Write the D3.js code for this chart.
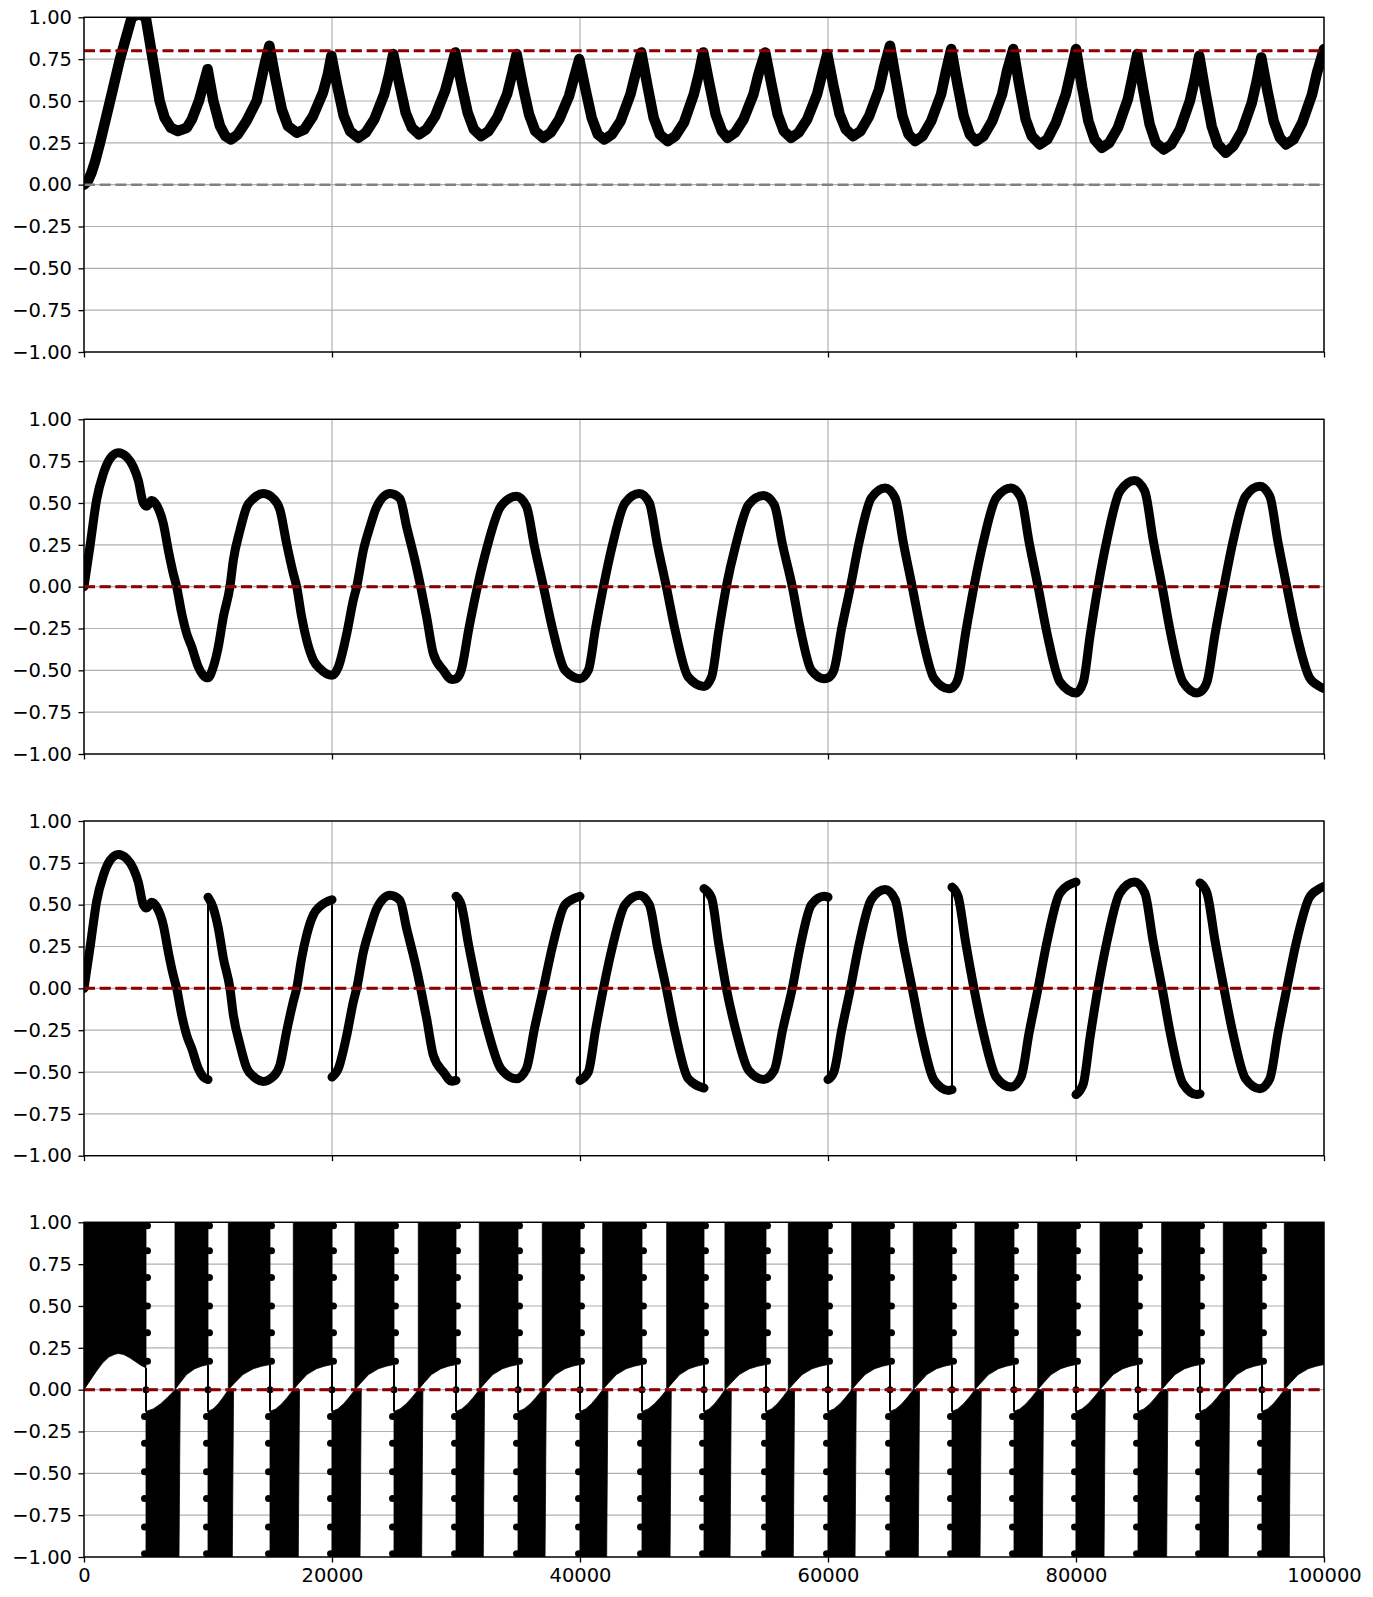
<!DOCTYPE html>
<html>
<head>
<meta charset="utf-8">
<script src="https://cdn.jsdelivr.net/npm/d3@7"></script>
<style>
  body { margin: 0; background: #fff; }
  svg { display: block; }
</style>
</head>
<body>
<div id="chart"></div>
<script>
// axis ticks
const xTicks = [0, 20000, 40000, 60000, 80000, 100000];
const yTicks = [-1, -0.75, -0.5, -0.25, 0, 0.25, 0.5, 0.75, 1];

// target (dark red dashed) per panel
const targets = [0.8, 0, 0, 0];

// panel 1 : [step, value]
const panel1 = [[0,0],[300,0.02],[600,0.07],[900,0.14],[1290,0.25],[2100,0.5],[2900,0.75],[3850,1.0],[4420,1.02],[4980,1.0],
  [5540,0.75],[6100,0.5],[6500,0.40],[7000,0.34],[7560,0.32],[8290,0.34],[8700,0.39],[9270,0.50],[9970,0.69],
  [10430,0.50],[10970,0.35],[11400,0.29],[11850,0.27],[12400,0.30],[13100,0.38],[13930,0.50],[14600,0.73],[14950,0.83],
  [15450,0.63],[15950,0.45],[16450,0.35],[17170,0.31],[17770,0.33],[18470,0.41],[19270,0.55],[19670,0.66],[19950,0.77],
  [20450,0.58],[20950,0.41],[21450,0.32],[22110,0.28],[22710,0.31],[23410,0.39],[24210,0.54],[24610,0.66],[24940,0.78],
  [25440,0.60],[25940,0.43],[26440,0.34],[27020,0.30],[27620,0.33],[28320,0.41],[29120,0.56],[29520,0.67],[29940,0.79],
  [30440,0.60],[30940,0.43],[31440,0.33],[32020,0.29],[32620,0.32],[33320,0.40],[34120,0.54],[34520,0.66],[34890,0.78],
  [35390,0.59],[35890,0.42],[36390,0.32],[37020,0.28],[37620,0.31],[38320,0.39],[39120,0.53],[39520,0.64],[39940,0.75],
  [40440,0.57],[40940,0.40],[41440,0.30],[41970,0.27],[42570,0.30],[43270,0.38],[44070,0.54],[44470,0.66],[44940,0.79],
  [45440,0.59],[45940,0.40],[46440,0.30],[47080,0.26],[47680,0.29],[48380,0.37],[49180,0.54],[49580,0.66],[49940,0.79],
  [50440,0.60],[50940,0.42],[51440,0.32],[51890,0.28],[52490,0.31],[53190,0.39],[53990,0.54],[54390,0.66],[54940,0.79],
  [55440,0.60],[55940,0.42],[56440,0.32],[57020,0.28],[57620,0.31],[58320,0.39],[59120,0.54],[59520,0.66],[59940,0.78],
  [60440,0.59],[60940,0.42],[61440,0.33],[62020,0.29],[62620,0.32],[63320,0.41],[64120,0.57],[64520,0.70],[65000,0.83],
  [65500,0.62],[66000,0.41],[66500,0.30],[67020,0.26],[67620,0.29],[68320,0.38],[69120,0.54],[69520,0.68],[69940,0.81],
  [70440,0.60],[70940,0.41],[71440,0.30],[71940,0.26],[72540,0.29],[73240,0.38],[74040,0.54],[74440,0.68],[74940,0.81],
  [75440,0.59],[75940,0.39],[76440,0.29],[77080,0.24],[77680,0.27],[78380,0.37],[79180,0.54],[79580,0.67],[80000,0.81],
  [80500,0.58],[81000,0.38],[81500,0.27],[82080,0.22],[82680,0.25],[83380,0.34],[84180,0.51],[84580,0.65],[84940,0.78],
  [85440,0.56],[85940,0.36],[86440,0.25],[87080,0.21],[87680,0.24],[88380,0.33],[89180,0.50],[89580,0.63],[89940,0.77],
  [90440,0.55],[90940,0.35],[91440,0.24],[92080,0.19],[92680,0.23],[93380,0.32],[94180,0.49],[94580,0.62],[94940,0.76],
  [95440,0.56],[95940,0.38],[96440,0.28],[96940,0.24],[97540,0.27],[98240,0.37],[99040,0.54],[99440,0.67],[100000,0.81]];

// panel 2 : [step, value]
const panel2 = [[0,0],[480,0.24],[1020,0.52],[1560,0.675],[2100,0.765],[2770,0.80],[3440,0.775],[3980,0.715],[4380,0.635],
  [4780,0.50],[5050,0.48],[5460,0.515],[5860,0.486],[6400,0.376],[6800,0.217],[7200,0.078],[7470,0],[7880,-0.16],[8280,-0.28],
  [8690,-0.36],[9220,-0.48],[9620,-0.53],[10000,-0.545],[10430,-0.48],[10830,-0.36],[11240,-0.18],[11770,0],[12040,0.157],
  [12580,0.337],[13120,0.476],[13660,0.526],[14460,0.556],[15270,0.526],[15810,0.456],[16340,0.257],[16880,0.078],[17150,0],
  [17550,-0.18],[17960,-0.32],[18500,-0.44],[19030,-0.49],[20000,-0.53],[20510,-0.48],[21190,-0.28],[21720,-0.08],[21990,0],
  [22530,0.217],[23060,0.357],[23600,0.476],[24680,0.556],[25480,0.526],[26020,0.357],[26690,0.157],[27150,0],[27630,-0.18],
  [28170,-0.40],[28980,-0.50],[29650,-0.555],[30000,-0.55],[30420,-0.50],[31040,-0.25],[31730,0],[32520,0.24],[33620,0.48],
  [34875,0.54],[35680,0.48],[36330,0.24],[37050,0],[37780,-0.25],[38790,-0.50],[40000,-0.55],[40670,-0.50],[41250,-0.25],
  [41890,0],[42620,0.25],[43630,0.50],[44790,0.556],[45590,0.50],[46240,0.25],[46960,0],[47700,-0.27],[48730,-0.54],
  [50000,-0.596],[50610,-0.54],[51180,-0.27],[51800,0],[52550,0.245],[53600,0.49],[54800,0.544],[55660,0.49],[56350,0.245],
  [57120,0],[57760,-0.25],[58660,-0.50],[59680,-0.55],[60000,-0.545],[60470,-0.50],[61100,-0.25],[61810,0],[62510,0.265],
  [63490,0.53],[64610,0.59],[65420,0.53],[66070,0.265],[66790,0],[67530,-0.275],[68560,-0.55],[69740,-0.61],[70000,-0.605],
  [70490,-0.55],[71100,-0.275],[71770,0],[72520,0.265],[73560,0.53],[74760,0.59],[75570,0.53],[76220,0.265],[76940,0],
  [77680,-0.285],[78710,-0.57],[80000,-0.635],[80590,-0.57],[81150,-0.285],[81770,0],[82510,0.285],[83540,0.57],[84720,0.635],
  [85550,0.57],[86210,0.285],[86950,0],[87650,-0.285],[88630,-0.57],[89750,-0.635],[90000,-0.63],[90560,-0.57],[91210,-0.285],
  [91930,0],[92660,0.27],[93670,0.54],[94830,0.60],[95630,0.54],[96280,0.27],[97000,0],[97750,-0.27],[98800,-0.54],
  [99500,-0.59],[100000,-0.61]];

// panel 3 : same signal, sign of each 10000-step block
const p3BlockLen = 10000;
const p3Sign = [1, -1, 1, -1, 1, -1, 1, -1, 1, -1];

// panel 4 : fast oscillation, read as bands
const p4FirstX = [0, 500, 1000, 1500, 2000, 2500, 2770, 3200, 3700, 4200, 4600, 5000];
const p4FirstY = [0, 0.055, 0.11, 0.16, 0.195, 0.212, 0.216, 0.21, 0.19, 0.165, 0.145, 0.13];
const p4Trans = [5000, 10000, 15000, 20000, 25000, 30000, 35000, 40000, 45000, 50000,
  55000, 60000, 65000, 70000, 75000, 80000, 85000, 90000, 95000];
const p4LowerEnd = [2660, 1960, 2280, 2260, 2230, 2200, 2180, 2150, 2260, 2100,
  2200, 2180, 2280, 2260, 2280, 2260, 2310, 2280, 2200];
const p4UpperStart = [2340, 1640, 1880, 1850, 1960, 1880, 1960, 1830, 1990, 1690,
  1800, 1910, 1880, 1850, 1910, 1940, 1910, 1880, 1800];
const p4LowFrac = [0, 0.25, 0.5, 0.75, 1];
const p4LowShape = [-0.13, -0.115, -0.085, -0.045, 0];
const p4HighFrac = [0, 0.15, 0.35, 0.6, 0.8, 1];
const p4HighShape = [0, 0.04, 0.09, 0.125, 0.14, 0.15];
const p4DotsUp = [0.98, 0.83, 0.67, 0.50, 0.34, 0.17];
const p4DotsDown = [-0.16, -0.32, -0.49, -0.65, -0.82, -0.98];

// layout
const W = 1373, H = 1597;
const left = 84, right = 1324;
const panelTop = [17.3, 419.3, 821, 1222.3];
const panelH = 334.7;
const dash = "11,4.7";
const darkred = "#8b0000";

const svg = d3.select("#chart").append("svg")
  .attr("width", W).attr("height", H);
svg.append("rect").attr("width", W).attr("height", H).attr("fill", "#fff");

const x = d3.scaleLinear().domain([0, 100000]).range([left, right]);

function makePanel(i) {
  const top = panelTop[i];
  const y = d3.scaleLinear().domain([-1, 1]).range([top + panelH, top]);
  const g = svg.append("g");

  svg.append("clipPath").attr("id", "clip" + i)
    .append("rect")
    .attr("x", left).attr("y", top)
    .attr("width", right - left).attr("height", panelH);

  // grille
  g.append("g").selectAll("line").data(yTicks).join("line")
    .attr("x1", left).attr("x2", right)
    .attr("y1", d => y(d)).attr("y2", d => y(d))
    .attr("stroke", "#b0b0b0").attr("stroke-width", 1.2);
  g.append("g").selectAll("line").data(xTicks).join("line")
    .attr("x1", d => x(d)).attr("x2", d => x(d))
    .attr("y1", top).attr("y2", top + panelH)
    .attr("stroke", "#b0b0b0").attr("stroke-width", 1.2);

  const plot = g.append("g").attr("clip-path", `url(#clip${i})`);
  return {g, plot, y, top};
}

function finishPanel(p, i) {
  const {g, plot, y, top} = p;
  // reference lines
  plot.append("line")
    .attr("x1", left).attr("x2", right)
    .attr("y1", y(0)).attr("y2", y(0))
    .attr("stroke", "#808080").attr("stroke-width", 2.5)
    .attr("stroke-dasharray", dash);
  plot.append("line")
    .attr("x1", left).attr("x2", right)
    .attr("y1", y(targets[i])).attr("y2", y(targets[i]))
    .attr("stroke", darkred).attr("stroke-width", 3)
    .attr("stroke-dasharray", dash);

  // cadre
  g.append("rect")
    .attr("x", left).attr("y", top)
    .attr("width", right - left).attr("height", panelH)
    .attr("fill", "none").attr("stroke", "#000").attr("stroke-width", 1.4);

  const ya = g.append("g").attr("transform", `translate(${left},0)`)
    .call(d3.axisLeft(y).tickValues(yTicks).tickFormat(d3.format(".2f"))
      .tickSize(5.5).tickPadding(6.5));
  const xa = g.append("g").attr("transform", `translate(0,${top + panelH})`)
    .call(d3.axisBottom(x).tickValues(xTicks)
      .tickFormat(i === 3 ? d3.format("d") : () => "")
      .tickSize(5.5).tickPadding(5.5));
  [ya, xa].forEach(a => {
    a.select(".domain").remove();
    a.attr("font-size", null).attr("font-family", null);
    a.selectAll("line").attr("stroke", "#000").attr("stroke-width", 1.3);
    a.selectAll("text")
      .attr("fill", "#000")
      .style("font-family", "'DejaVu Sans', sans-serif")
      .style("font-size", "19.5px");
  });
}

// ---- panel 1
{
  const p = makePanel(0);
  const line = d3.line().x(d => x(d[0])).y(d => p.y(d[1]));
  p.plot.append("path").datum(panel1)
    .attr("d", line)
    .attr("fill", "none").attr("stroke", "#000")
    .attr("stroke-width", 10.5)
    .attr("stroke-linejoin", "round").attr("stroke-linecap", "round");
  finishPanel(p, 0);
}

// ---- panel 2
{
  const p = makePanel(1);
  const line = d3.line().x(d => x(d[0])).y(d => p.y(d[1])).curve(d3.curveMonotoneX);
  p.plot.append("path").datum(panel2)
    .attr("d", line)
    .attr("fill", "none").attr("stroke", "#000")
    .attr("stroke-width", 9)
    .attr("stroke-linejoin", "round").attr("stroke-linecap", "round");
  finishPanel(p, 1);
}

// ---- panel 3
{
  const p = makePanel(2);
  const line = d3.line().x(d => x(d[0])).y(d => p.y(d[1])).curve(d3.curveMonotoneX);
  const blocks = p3Sign.map((s, k) =>
    panel2.filter(d => d[0] >= k * p3BlockLen && d[0] <= (k + 1) * p3BlockLen)
      .map(d => [d[0], s * d[1]]));

  // sauts entre blocs (trait fin)
  const jumps = blocks.slice(1).map((b, k) => [blocks[k][blocks[k].length - 1], b[0]]);
  p.plot.append("g").selectAll("line").data(jumps).join("line")
    .attr("x1", d => x(d[0][0])).attr("x2", d => x(d[1][0]))
    .attr("y1", d => p.y(d[0][1])).attr("y2", d => p.y(d[1][1]))
    .attr("stroke", "#000").attr("stroke-width", 2);

  p.plot.append("g").selectAll("path").data(blocks).join("path")
    .attr("d", line)
    .attr("fill", "none").attr("stroke", "#000")
    .attr("stroke-width", 9)
    .attr("stroke-linejoin", "round").attr("stroke-linecap", "round");
  finishPanel(p, 2);
}

// ---- panel 4
{
  const p = makePanel(3);
  const poly = d3.line().x(d => x(d[0])).y(d => p.y(d[1]));
  const bands = [];

  // first half-period: only the upper band
  bands.push(p4FirstX.map((v, j) => [v, p4FirstY[j]]).concat([[5000, 1], [0, 1]]));

  p4Trans.forEach((t, k) => {
    const u = t + p4UpperStart[k];
    const l = t + p4LowerEnd[k];
    const end = Math.min(t + 5000, 100000);
    // lower band
    bands.push(p4LowFrac.map((f, j) => [t + f * (u - t), p4LowShape[j]])
      .concat([[l + 100, 0], [l, -1], [t, -1]]));
    // upper band
    bands.push(p4HighFrac.map((f, j) => [u + f * (end - u), p4HighShape[j]])
      .concat([[end, 1], [u, 1]]));
  });

  p.plot.append("g").selectAll("path").data(bands).join("path")
    .attr("d", d => poly(d) + "Z")
    .attr("fill", "#000").attr("stroke", "#000").attr("stroke-width", 0.8);

  // vertical jumps at each transition
  p.plot.append("g").selectAll("line").data(p4Trans).join("line")
    .attr("x1", d => x(d)).attr("x2", d => x(d))
    .attr("y1", d => p.y(d === 5000 ? p4FirstY[p4FirstY.length - 1] : p4HighShape[p4HighShape.length - 1]))
    .attr("y2", p.y(p4LowShape[0]))
    .attr("stroke", "#000").attr("stroke-width", 2);

  const dots = [];
  p4Trans.forEach(t => {
    p4DotsUp.forEach(v => dots.push([t + 120, v]));
    p4DotsDown.forEach(v => dots.push([t - 120, v]));
    dots.push([t, 0]);
  });
  p.plot.append("g").selectAll("circle").data(dots).join("circle")
    .attr("cx", d => x(d[0])).attr("cy", d => p.y(d[1]))
    .attr("r", 3.5).attr("fill", "#000");

  finishPanel(p, 3);
}
</script>
</body>
</html>
